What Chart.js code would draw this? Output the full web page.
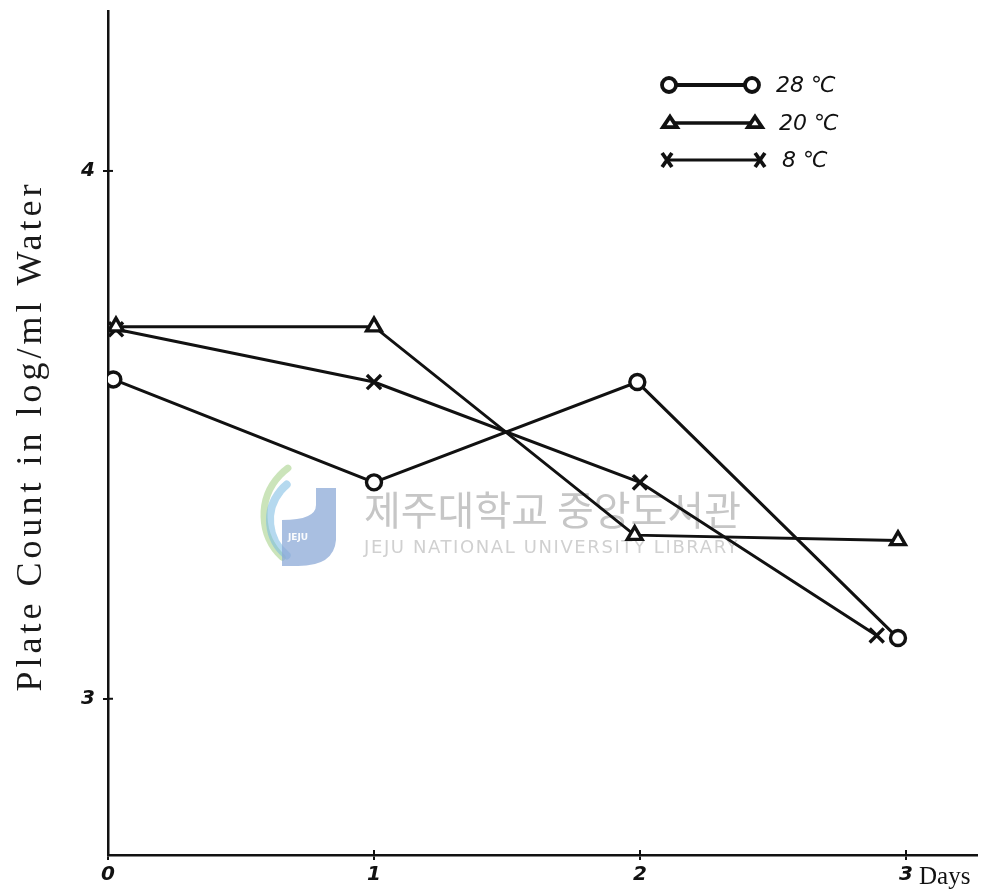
<!DOCTYPE html>
<html>
<head>
<meta charset="utf-8">
<script src="https://cdn.jsdelivr.net/npm/chart.js@4.4.1/dist/chart.umd.min.js"></script>
<style>
  html, body { margin: 0; padding: 0; background: #ffffff; }
  #wrap { width: 982px; height: 896px; position: relative; }
</style>
</head>
<body>
<div id="wrap"><canvas id="chart" width="982" height="896"></canvas></div>
<script>
// Plate counts (log per ml water) over storage days at three temperatures
const seriesNames = ['28 ℃', '20 ℃', '8 ℃'];
const days28 = [0.02, 1, 1.99, 2.97];
const count28 = [3.605, 3.41, 3.60, 3.115];
const days20 = [0.03, 1, 1.98, 2.97];
const count20 = [3.705, 3.705, 3.31, 3.30];
const days8 = [0.03, 1, 2, 2.89];
const count8 = [3.70, 3.60, 3.41, 3.12];
const dayTicks = [0, 1, 2, 3];
const countTicks = [3, 4];
const xUnitLabel = 'Days';
const yTitle = 'Plate Count in log/ml Water';
const watermarkKo = '제주대학교 중앙도서관';
const watermarkEn = 'JEJU NATIONAL UNIVERSITY LIBRARY';

const pairs = (xs, ys) => xs.map((x, i) => ({ x: x, y: ys[i] }));

const INK = '#111111';
const styles = ['circle', 'triangle', 'crossRot'];

function drawMarker(ctx, style, x, y, r, lw) {
  ctx.save();
  ctx.lineWidth = lw;
  ctx.strokeStyle = INK;
  ctx.fillStyle = '#ffffff';
  ctx.beginPath();
  if (style === 'circle') {
    ctx.arc(x, y, r, 0, Math.PI * 2);
    ctx.fill(); ctx.stroke();
  } else if (style === 'triangle') {
    const h = r * 1.5;
    ctx.moveTo(x, y - h * 0.6);
    ctx.lineTo(x + r, y + h * 0.4);
    ctx.lineTo(x - r, y + h * 0.4);
    ctx.closePath();
    ctx.fill(); ctx.stroke();
  } else {
    ctx.moveTo(x - r * 0.7, y - r);
    ctx.lineTo(x + r * 0.7, y + r);
    ctx.moveTo(x + r * 0.7, y - r);
    ctx.lineTo(x - r * 0.7, y + r);
    ctx.stroke();
  }
  ctx.restore();
}

// Faint library stamp behind the data
const watermark = {
  id: 'watermark',
  beforeDatasetsDraw(chart) {
    const ctx = chart.ctx;
    ctx.save();
    // emblem
    ctx.lineCap = 'round';
    ctx.strokeStyle = 'rgba(160,205,130,0.55)';
    ctx.lineWidth = 7;
    ctx.beginPath();
    ctx.arc(322, 515, 58, Math.PI * 0.74, Math.PI * 1.3);
    ctx.stroke();
    ctx.strokeStyle = 'rgba(120,185,225,0.55)';
    ctx.lineWidth = 8;
    ctx.beginPath();
    ctx.arc(316, 520, 46, Math.PI * 0.72, Math.PI * 1.28);
    ctx.stroke();
    ctx.fillStyle = 'rgba(140,170,215,0.75)';
    ctx.beginPath();
    ctx.moveTo(316, 488);
    ctx.lineTo(336, 488);
    ctx.lineTo(336, 540);
    ctx.quadraticCurveTo(334, 566, 298, 566);
    ctx.lineTo(282, 566);
    ctx.lineTo(282, 520);
    ctx.quadraticCurveTo(316, 520, 316, 505);
    ctx.closePath();
    ctx.fill();
    ctx.fillStyle = 'rgba(255,255,255,0.95)';
    ctx.font = 'bold 9px "DejaVu Sans"';
    ctx.textAlign = 'center';
    ctx.fillText('JEJU', 298, 540);
    // text
    ctx.textAlign = 'left';
    ctx.textBaseline = 'middle';
    ctx.fillStyle = '#c6c6c6';
    ctx.font = '40px "Noto Sans CJK KR"';
    ctx.fillText(watermarkKo, 364, 510);
    ctx.fillStyle = '#d0d0d0';
    ctx.font = '18px "DejaVu Sans"';
    if ('letterSpacing' in ctx) ctx.letterSpacing = '1.6px';
    ctx.fillText(watermarkEn, 364, 548);
    ctx.restore();
  }
};

// Axis title, tick marks that cross the axis lines, the unit label and the key
const extras = {
  id: 'extras',
  afterDraw(chart) {
    const ctx = chart.ctx;
    const xs = chart.scales.x, ys = chart.scales.y;
    const area = chart.chartArea;
    ctx.save();
    ctx.strokeStyle = INK;
    ctx.lineWidth = 2;
    dayTicks.forEach(v => {
      if (v === 0) return;
      const px = xs.getPixelForValue(v);
      ctx.beginPath(); ctx.moveTo(px, area.bottom - 5); ctx.lineTo(px, area.bottom); ctx.stroke();
    });
    countTicks.forEach(v => {
      const py = ys.getPixelForValue(v);
      ctx.beginPath(); ctx.moveTo(area.left, py); ctx.lineTo(area.left + 5, py); ctx.stroke();
    });
    // y axis title, widely tracked
    ctx.save();
    ctx.translate(32, (area.top + area.bottom) / 2 + 3);
    ctx.rotate(-Math.PI / 2);
    ctx.fillStyle = '#1a1a1a';
    ctx.font = '36px "Liberation Serif"';
    if ('letterSpacing' in ctx) ctx.letterSpacing = '4px';
    ctx.textAlign = 'center';
    ctx.textBaseline = 'middle';
    ctx.fillText(yTitle, 0, 0);
    ctx.restore();
    // unit label beside the last day
    ctx.fillStyle = INK;
    ctx.font = '25px "Liberation Serif"';
    ctx.textAlign = 'left';
    ctx.textBaseline = 'middle';
    ctx.fillText(xUnitLabel, xs.getPixelForValue(3) + 13, 877);
    // key
    const rows = [
      { y: 85, x0: 669, x1: 752, lw: 4 },
      { y: 123, x0: 670, x1: 755, lw: 3.5 },
      { y: 160, x0: 667, x1: 760, lw: 3 }
    ];
    rows.forEach((r, i) => {
      ctx.strokeStyle = INK;
      ctx.lineWidth = r.lw;
      ctx.beginPath(); ctx.moveTo(r.x0, r.y); ctx.lineTo(r.x1, r.y); ctx.stroke();
      drawMarker(ctx, styles[i], r.x0, r.y, 7, 3.8);
      drawMarker(ctx, styles[i], r.x1, r.y, 7, 3.8);
      ctx.fillStyle = INK;
      ctx.font = 'oblique 22px "DejaVu Sans"';
      ctx.fillText(seriesNames[i], r.x1 + (i === 2 ? 22 : 24), r.y + 1);
    });
    ctx.restore();
  }
};

const common = {
  borderColor: INK,
  borderWidth: 3,
  pointBorderColor: INK,
  pointBackgroundColor: '#ffffff',
  pointBorderWidth: 3.4,
  tension: 0,
  fill: false
};

new Chart(document.getElementById('chart'), {
  type: 'line',
  data: {
    datasets: [
      Object.assign({ label: seriesNames[0], data: pairs(days28, count28), pointStyle: 'circle', pointRadius: 7.5 }, common),
      Object.assign({ label: seriesNames[1], data: pairs(days20, count20), pointStyle: 'triangle', pointRadius: 8.5 }, common),
      Object.assign({ label: seriesNames[2], data: pairs(days8, count8), pointStyle: 'crossRot', pointRadius: 10, pointBorderWidth: 4 }, common)
    ]
  },
  options: {
    responsive: false,
    animation: false,
    layout: { autoPadding: false, padding: { top: 11, right: 5, left: 0, bottom: 0 } },
    plugins: { legend: { display: false }, tooltip: { enabled: false } },
    scales: {
      x: {
        type: 'linear',
        min: 0,
        max: 3.267,
        afterBuildTicks: s => { s.ticks = dayTicks.map(v => ({ value: v })); },
        afterFit: s => { s.height = 41; s.paddingLeft = 0; s.paddingRight = 0; },
        ticks: {
          color: INK,
          padding: 3,
          font: { family: 'DejaVu Sans', style: 'oblique', weight: 'bold', size: 20 },
          callback: v => String(v)
        },
        grid: { drawOnChartArea: false, color: INK, lineWidth: 2, tickLength: 5 },
        border: { color: INK, width: 2.5 }
      },
      y: {
        type: 'linear',
        min: 2.704,
        max: 4.303,
        afterBuildTicks: s => { s.ticks = countTicks.map(v => ({ value: v })); },
        afterFit: s => { s.width = 108; s.paddingTop = 0; s.paddingBottom = 0; },
        ticks: {
          color: INK,
          padding: 8,
          font: { family: 'DejaVu Sans', style: 'oblique', weight: 'bold', size: 20 },
          callback: v => String(v)
        },
        grid: { drawOnChartArea: false, color: INK, lineWidth: 2, tickLength: 5 },
        border: { color: INK, width: 2.5 }
      }
    }
  },
  plugins: [watermark, extras]
});
</script>
</body>
</html>
